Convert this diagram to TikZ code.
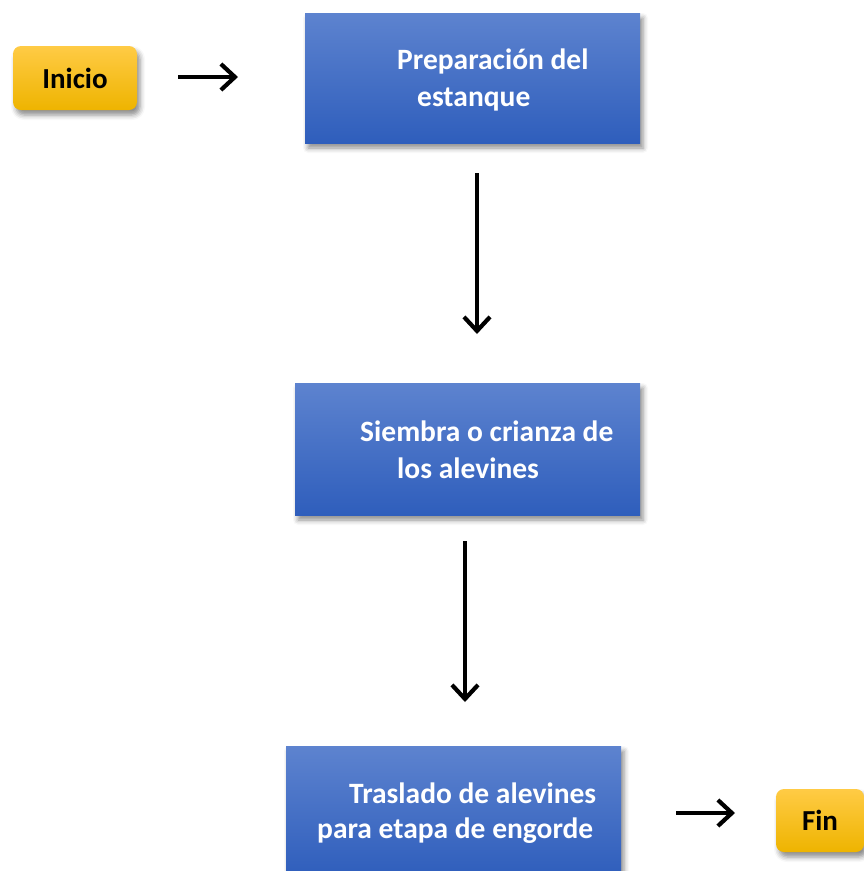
\documentclass[tikz,border=0pt]{standalone}
\usepackage{fontspec}
\setmainfont{Carlito}
\usetikzlibrary{arrows.meta,shadows.blur}
\definecolor{ytop}{HTML}{FFCB45}
\definecolor{ybot}{HTML}{EEB400}
\definecolor{btop}{HTML}{5D83CF}
\definecolor{bbot}{HTML}{2F5EBC}
\tikzset{
  startend/.style={rounded corners=8pt, top color=ytop, bottom color=ybot, draw=none,
    blur shadow={shadow xshift=3pt, shadow yshift=-5pt, shadow blur radius=5pt, shadow opacity=45},
    font=\fontsize{29}{34}\selectfont\bfseries, text=black},
  procbox/.style={top color=btop, bottom color=bbot, draw=none,
    blur shadow={shadow xshift=3pt, shadow yshift=-5pt, shadow blur radius=5pt, shadow opacity=45},
    inner sep=0pt},
  proctext/.style={text=white, font=\fontsize{29.5}{37}\selectfont\bfseries, align=left, anchor=north west, inner sep=0pt},
  arr/.style={line width=3.8pt, -{Straight Barb[length=14pt,width=26pt,line width=4.2pt]}}
}
\begin{document}
\begin{tikzpicture}[x=1pt,y=-1pt]
\useasboundingbox (0,0) rectangle (863,871);
\node[startend, minimum width=124pt, minimum height=64pt] (ini) at (75,78) {Inicio};
\node[procbox, minimum width=335pt, minimum height=130pt] (b1) at (472.5,78) {};
\node[proctext] (t1) at (397,49) {Preparación del\\\hspace*{20pt}estanque};
\node[procbox, minimum width=345pt, minimum height=132pt] (b2) at (467.5,449) {};
\node[proctext] (t2) at (360,421) {Siembra o crianza de\\\hspace*{37pt}los alevines};
\node[procbox, minimum width=335pt, minimum height=130pt] (b3) at (453.5,811) {};
\node[proctext, font=\fontsize{29.5}{35}\selectfont\bfseries] (t3) at (317,783) {\hspace*{32pt}Traslado de alevines\\para etapa de engorde};
\node[startend, minimum width=88pt, minimum height=63pt] (fin) at (820,820.5) {Fin};
\coordinate (a1s) at (178,77); \coordinate (a1e) at (238,77);
\coordinate (a2s) at (477,173); \coordinate (a2e) at (477,334);
\coordinate (a3s) at (465,541); \coordinate (a3e) at (465,702);
\coordinate (a4s) at (676,813); \coordinate (a4e) at (735,813);
\draw[arr] (a1s) -- (a1e);
\draw[arr] (a2s) -- (a2e);
\draw[arr] (a3s) -- (a3e);
\draw[arr] (a4s) -- (a4e);
\end{tikzpicture}
\end{document}
